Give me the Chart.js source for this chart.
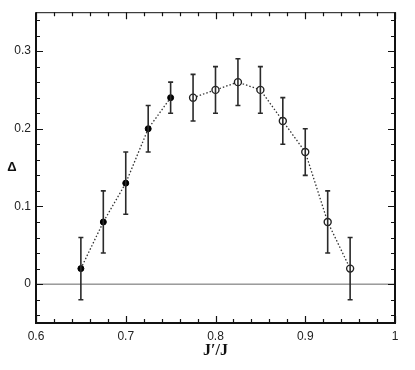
<!DOCTYPE html>
<html>
<head>
<meta charset="utf-8">
<script src="https://cdn.jsdelivr.net/npm/chart.js@4/dist/chart.umd.min.js"></script>
<style>
  html, body { margin: 0; padding: 0; background: #fff; }
  #wrap { width: 415px; height: 370px; }
</style>
</head>
<body>
<div id="wrap"><canvas id="gapChart"></canvas></div>
<script>
// gevulde punten (links) en open punten (rechts), met foutmarges
const filledX = [0.65, 0.675, 0.7, 0.725, 0.75];
const filledY = [0.02, 0.08, 0.13, 0.20, 0.24];
const filledErr = [0.04, 0.04, 0.04, 0.03, 0.02];

const openX = [0.775, 0.8, 0.825, 0.85, 0.875, 0.9, 0.925, 0.95];
const openY = [0.24, 0.25, 0.26, 0.25, 0.21, 0.17, 0.08, 0.02];
const openErr = [0.03, 0.03, 0.03, 0.03, 0.03, 0.03, 0.04, 0.04];

const xTicks = [0.6, 0.7, 0.8, 0.9, 1];
const yTicks = [0, 0.1, 0.2, 0.3];
const xMinorStep = 0.02;
const yMinorStep = 0.02;

const xRange = [0.6, 1];
const yRange = [-0.05, 0.35];

function toPoints(xs, ys, errs) {
    return xs.map((x, i) => ({ x: x, y: ys[i], err: errs[i] }));
}

// foutbalken tekenen via de schalen van Chart.js
const errorBars = {
    id: 'errorBars',
    afterDatasetsDraw(chart) {
        const { ctx, scales: { x, y } } = chart;
        ctx.save();
        ctx.strokeStyle = '#2a2a2a';
        ctx.lineWidth = 1.6;
        chart.data.datasets.forEach(ds => {
            if (!ds.errorBars) return;
            ds.data.forEach(p => {
                const px = x.getPixelForValue(p.x);
                const top = y.getPixelForValue(p.y + p.err);
                const bot = y.getPixelForValue(p.y - p.err);
                ctx.beginPath();
                ctx.moveTo(px, top); ctx.lineTo(px, bot);
                ctx.moveTo(px - 2.5, top); ctx.lineTo(px + 2.5, top);
                ctx.moveTo(px - 2.5, bot); ctx.lineTo(px + 2.5, bot);
                ctx.stroke();
            });
        });
        ctx.restore();
    }
};

// kader met naar binnen gerichte tick-streepjes, en de Δ-label
const frameTicks = {
    id: 'frameTicks',
    afterDraw(chart) {
        const { ctx, chartArea: a, scales: { x, y } } = chart;
        ctx.save();
        ctx.strokeStyle = '#111';

        ctx.lineWidth = 1.2;
        for (let v = xRange[0]; v <= xRange[1] + 1e-9; v += xMinorStep) {
            const major = xTicks.some(t => Math.abs(t - v) < 1e-6);
            const len = major ? 7 : 4;
            const px = Math.round(x.getPixelForValue(v)) + 0.5;
            ctx.beginPath();
            ctx.moveTo(px, a.bottom); ctx.lineTo(px, a.bottom - len);
            ctx.moveTo(px, a.top); ctx.lineTo(px, a.top + len);
            ctx.stroke();
        }
        for (let v = -0.04; v <= yRange[1] + 1e-9; v += yMinorStep) {
            const major = yTicks.some(t => Math.abs(t - v) < 1e-6);
            const len = major ? 7 : 4;
            const py = Math.round(y.getPixelForValue(v)) + 0.5;
            ctx.beginPath();
            ctx.moveTo(a.left, py); ctx.lineTo(a.left + len, py);
            ctx.moveTo(a.right, py); ctx.lineTo(a.right - len, py);
            ctx.stroke();
        }

        ctx.lineWidth = 1;
        ctx.beginPath();
        ctx.moveTo(a.left, a.top + 0.5); ctx.lineTo(a.right, a.top + 0.5);
        ctx.stroke();
        ctx.lineWidth = 2;
        ctx.beginPath();
        ctx.moveTo(a.left, a.top); ctx.lineTo(a.left, a.bottom);
        ctx.lineTo(a.right, a.bottom); ctx.lineTo(a.right, a.top);
        ctx.stroke();

        ctx.fillStyle = '#111';
        ctx.font = 'bold 13px "Liberation Sans", Arial, sans-serif';
        ctx.textAlign = 'center';
        ctx.textBaseline = 'middle';
        ctx.fillText('Δ', 12, (a.top + a.bottom) / 2);
        ctx.restore();
    }
};

new Chart(document.getElementById('gapChart'), {
    type: 'scatter',
    data: {
        datasets: [
            {
                label: 'zero',
                data: [{ x: xRange[0], y: 0 }, { x: xRange[1], y: 0 }],
                showLine: true,
                borderColor: '#666',
                borderWidth: 1,
                pointRadius: 0
            },
            {
                label: 'filled',
                data: toPoints(filledX, filledY, filledErr),
                errorBars: true,
                showLine: true,
                borderColor: '#333',
                borderWidth: 1.3,
                borderDash: [1.5, 2],
                pointRadius: 3,
                pointBackgroundColor: '#000',
                pointBorderColor: '#000',
                pointBorderWidth: 1
            },
            {
                label: 'open',
                data: toPoints(openX, openY, openErr),
                errorBars: true,
                showLine: true,
                borderColor: '#333',
                borderWidth: 1.3,
                borderDash: [1.5, 2],
                pointRadius: 3.5,
                pointBackgroundColor: '#fff',
                pointBorderColor: '#222',
                pointBorderWidth: 1.4
            }
        ]
    },
    options: {
        responsive: true,
        maintainAspectRatio: false,
        animation: false,
        layout: { padding: { top: 10, right: 20, left: 0, bottom: 0 } },
        plugins: { legend: { display: false }, tooltip: { enabled: false } },
        scales: {
            x: {
                type: 'linear',
                min: xRange[0],
                max: xRange[1],
                grid: { display: false, drawTicks: false },
                border: { display: false },
                afterBuildTicks: s => { s.ticks = xTicks.map(v => ({ value: v })); },
                afterFit: s => { s.height = 47; },
                ticks: {
                    padding: 6,
                    color: '#222',
                    font: { family: '"Liberation Sans", Arial, sans-serif', size: 12 },
                    callback: v => String(v)
                },
                title: {
                    display: true,
                    text: 'J′/J',
                    color: '#111',
                    font: { family: '"Liberation Serif", "DejaVu Serif", serif', size: 16, weight: 'bold' },
                    padding: { top: 0, bottom: 10 }
                }
            },
            y: {
                type: 'linear',
                min: yRange[0],
                max: yRange[1],
                grid: { display: false, drawTicks: false },
                border: { display: false },
                afterBuildTicks: s => { s.ticks = yTicks.map(v => ({ value: v })); },
                afterFit: s => { s.width = 36; },
                ticks: {
                    padding: 5,
                    color: '#222',
                    font: { family: '"Liberation Sans", Arial, sans-serif', size: 12 },
                    callback: v => String(v)
                }
            }
        }
    },
    plugins: [errorBars, frameTicks]
});
</script>
</body>
</html>
